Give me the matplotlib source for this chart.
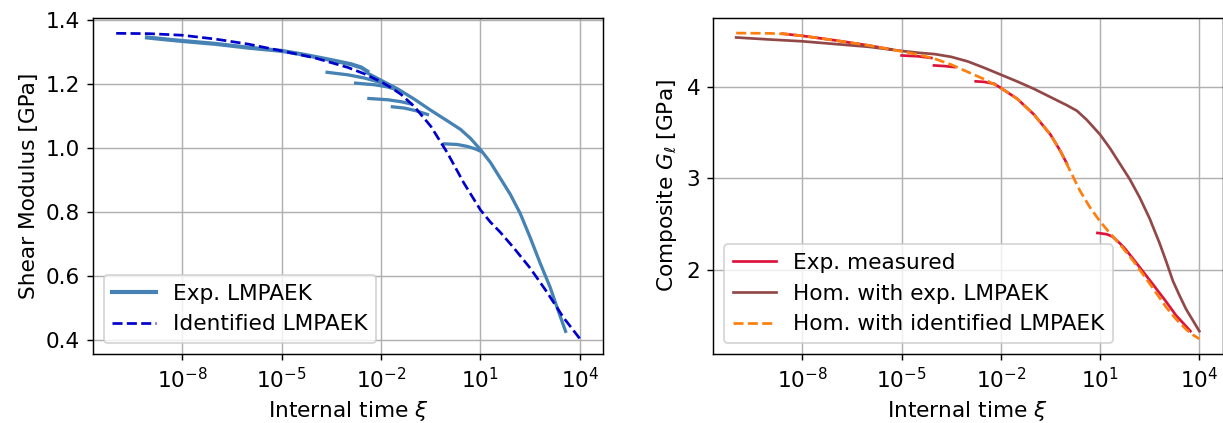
import numpy as np
import matplotlib
matplotlib.use("Agg")
import matplotlib.pyplot as plt
from matplotlib.ticker import NullLocator, LogFormatterMathtext

# ---------------- Left panel data (log10 of internal time, shear modulus GPa) ----------------
ident_logx = [-10.0, -9.0, -8.0, -7.0, -6.0, -5.0, -4.0, -3.0, -2.5, -2.0, -1.7, -1.4, -1.0, -0.5, 0.0, 0.5, 1.0, 1.3, 1.6, 2.0, 2.5, 3.0, 3.5, 4.0]
ident_G = [1.359, 1.358, 1.353, 1.341, 1.325, 1.304, 1.282, 1.252, 1.232, 1.207, 1.189, 1.168, 1.130, 1.068, 0.985, 0.890, 0.806, 0.768, 0.736, 0.688, 0.624, 0.550, 0.470, 0.403]

exp_main_logx = [-9.07, -8.5, -8.0, -7.0, -6.0, -5.0, -4.43, -3.93, -3.4, -2.9, -2.6, -2.42]
exp_main_G = [1.346, 1.340, 1.335, 1.326, 1.314, 1.304, 1.294, 1.284, 1.273, 1.262, 1.252, 1.240]

exp_tail_logx = [-2.42, -2.0, -1.5, -1.0, -0.5, 0.0, 0.4, 0.7, 1.0, 1.3, 1.6, 1.9, 2.2, 2.5, 2.8, 3.1, 3.35, 3.57]
exp_tail_G = [1.235, 1.212, 1.185, 1.153, 1.118, 1.085, 1.058, 1.030, 0.995, 0.955, 0.905, 0.855, 0.795, 0.720, 0.640, 0.565, 0.490, 0.426]

segA_logx = [-3.63, -3.0, -2.5, -2.02]
segA_G = [1.237, 1.229, 1.219, 1.205]
segB_logx = [-2.77, -2.2, -1.8, -1.51]
segB_G = [1.203, 1.198, 1.191, 1.182]
segC_logx = [-2.37, -1.8, -1.4, -1.1]
segC_G = [1.155, 1.151, 1.145, 1.138]
segD_logx = [-1.66, -1.3, -0.96, -0.6]
segD_G = [1.129, 1.125, 1.117, 1.105]
segE_logx = [-0.09, 0.3, 0.6, 0.85, 1.0]
segE_G = [1.013, 1.011, 1.005, 0.997, 0.990]

# ---------------- Right panel data (log10 of internal time, composite G GPa) ----------------
hom_exp_logx = [-10.0, -9.0, -8.0, -7.0, -6.0, -5.0, -4.5, -4.0, -3.5, -3.0, -2.5, -2.0, -1.5, -1.0, -0.5, 0.0, 0.3, 0.6, 1.0, 1.3, 1.6, 1.9, 2.2, 2.5, 2.8, 3.0, 3.2, 3.4, 3.6, 3.8, 4.0]
hom_exp_G = [4.542, 4.520, 4.500, 4.470, 4.440, 4.395, 4.375, 4.360, 4.330, 4.280, 4.210, 4.135, 4.060, 3.980, 3.890, 3.800, 3.740, 3.640, 3.480, 3.330, 3.160, 2.990, 2.790, 2.560, 2.290, 2.090, 1.880, 1.720, 1.570, 1.450, 1.330]

hom_id_logx = [-10.0, -9.0, -8.5, -8.0, -7.0, -6.0, -5.0, -4.5, -4.0, -3.5, -3.0, -2.5, -2.0, -1.5, -1.0, -0.5, -0.2, 0.1, 0.4, 0.7, 1.0, 1.3, 1.6, 2.0, 2.5, 3.0, 3.3, 3.6, 3.8, 4.0]
hom_id_G = [4.590, 4.587, 4.580, 4.560, 4.510, 4.455, 4.390, 4.355, 4.310, 4.245, 4.165, 4.085, 3.990, 3.870, 3.700, 3.480, 3.300, 3.080, 2.860, 2.680, 2.530, 2.400, 2.280, 2.100, 1.850, 1.590, 1.460, 1.350, 1.290, 1.246]

meas1_logx = [-8.6, -8.0, -7.0, -6.0, -5.3]
meas1_G = [4.583, 4.560, 4.510, 4.455, 4.410]
meas2_logx = [-5.0, -4.5, -4.1]
meas2_G = [4.345, 4.336, 4.318]
meas3_logx = [-4.02, -3.7, -3.4]
meas3_G = [4.236, 4.229, 4.218]
meas4_logx = [-2.76, -2.5, -2.2, -2.0, -1.5, -1.0, -0.5, -0.2, 0.0]
meas4_G = [4.062, 4.056, 4.035, 3.990, 3.870, 3.700, 3.480, 3.300, 3.160]
meas5_logx = [0.92, 1.2, 1.37, 1.6, 1.77, 2.0, 2.28, 2.6, 2.98, 3.3, 3.48, 3.73]
meas5_G = [2.404, 2.390, 2.365, 2.290, 2.225, 2.120, 1.990, 1.840, 1.660, 1.500, 1.430, 1.330]

C_EXP = "#4682b4"
C_ID = "#0000cd"
C_MEAS = "#dc143c"
C_HOMEXP = "#934848"
C_HOMID = "#ff7f0e"

plt.rcParams["font.family"] = ["DejaVu Sans"]
plt.rcParams["font.size"] = 12

DPI = 130
fig = plt.figure(figsize=(1223 / DPI, 423 / DPI), dpi=DPI)
W, H = 1223.0, 423.0
ax1 = fig.add_axes([93 / W, (H - 354) / H, (603 - 93) / W, (354 - 18) / H])
ax2 = fig.add_axes([713 / W, (H - 354) / H, (1222.5 - 713) / W, (354 - 18) / H])


def p(v):
    return np.power(10.0, np.asarray(v, dtype=float))


lw = 1.5
ax1.plot(p(exp_main_logx), exp_main_G, color=C_EXP, lw=2.3, label="Exp. LMPAEK")
for xs, ys in [(exp_tail_logx, exp_tail_G), (segA_logx, segA_G), (segB_logx, segB_G),
               (segC_logx, segC_G), (segD_logx, segD_G), (segE_logx, segE_G)]:
    ax1.plot(p(xs), ys, color=C_EXP, lw=lw + 0.3)
ax1.plot(p(ident_logx), ident_G, color=C_ID, lw=lw, ls="--", label="Identified LMPAEK")

for i, (xs, ys) in enumerate([(meas1_logx, meas1_G), (meas2_logx, meas2_G), (meas3_logx, meas3_G),
                              (meas4_logx, meas4_G), (meas5_logx, meas5_G)]):
    ax2.plot(p(xs), ys, color=C_MEAS, lw=lw, label="Exp. measured" if i == 0 else None)
ax2.plot(p(hom_exp_logx), hom_exp_G, color=C_HOMEXP, lw=lw, label="Hom. with exp. LMPAEK")
ax2.plot(p(hom_id_logx), hom_id_G, color=C_HOMID, lw=lw, ls="--", label="Hom. with identified LMPAEK")

for ax in (ax1, ax2):
    ax.set_xscale("log")
    ax.set_xlim(10 ** -10.7, 10 ** 4.7)
    ax.set_xticks([1e-8, 1e-5, 1e-2, 1e1, 1e4])
    ax.xaxis.set_major_formatter(LogFormatterMathtext())
    ax.xaxis.set_minor_locator(NullLocator())
    ax.grid(True, which="major", color="#b0b0b0", lw=0.8)
    ax.set_xlabel(r"Internal time $\xi$")
    ax.legend(loc="lower left")

ax1.set_ylim(0.355, 1.407)
ax1.set_yticks([0.4, 0.6, 0.8, 1.0, 1.2, 1.4])
ax1.set_ylabel("Shear Modulus [GPa]")

ax2.set_ylim(1.08, 4.755)
ax2.set_yticks([2, 3, 4])
ax2.set_ylabel(r"Composite $G_\ell$ [GPa]")

fig.savefig("out.png", dpi=DPI)
